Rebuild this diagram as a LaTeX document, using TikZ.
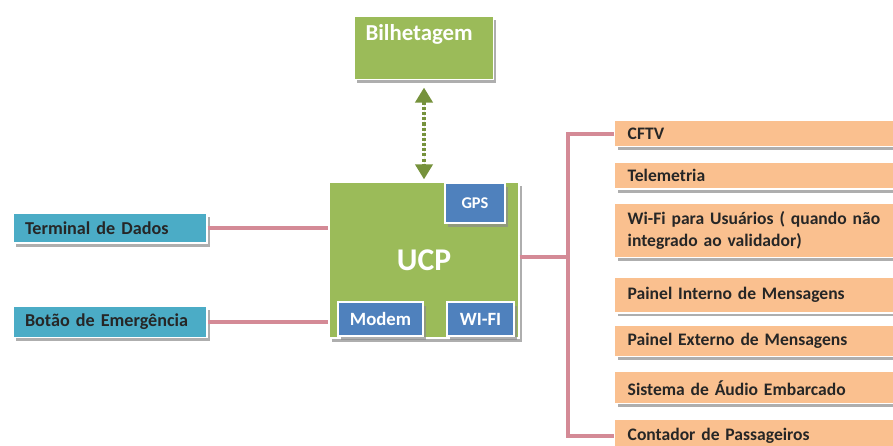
\documentclass[tikz,border=0pt]{standalone}
\usepackage{fontspec}
\setmainfont{Carlito}
\usetikzlibrary{shapes,arrows.meta,positioning,shadows}
\definecolor{ucpgreen}{HTML}{9BBB59}
\definecolor{modblue}{HTML}{4F81BD}
\definecolor{termcyan}{HTML}{4BACC6}
\definecolor{periorange}{HTML}{FAC08F}
\definecolor{wirepink}{RGB}{212,138,150}
\definecolor{arrowgreen}{HTML}{76923C}
\definecolor{darktext}{HTML}{262626}
\tikzset{basic/.style={draw=white,line width=1.2pt,rectangle,drop shadow={shadow xshift=2.5pt,shadow yshift=-3pt,fill=black!45,opacity=.7}}}
\tikzset{greenbox/.style={basic,fill=ucpgreen,text=white}}
\tikzset{module/.style={basic,fill=modblue,text=white,inner sep=0pt}}
\tikzset{input/.style={basic,fill=termcyan,text=darktext,inner xsep=0.36cm,text width=5.1cm,align=left,font=\bfseries\fontsize{15.5}{18}\selectfont}}
\tikzset{periph/.style={basic,fill=periorange,text=darktext,inner xsep=0.39cm,inner ysep=0pt,text width=7.62cm,align=left,font=\bfseries\fontsize{15}{19}\selectfont}}
\tikzset{wire/.style={draw=wirepink,line width=3.3pt}}
\tikzset{dotlink/.style={draw=arrowgreen,fill=arrowgreen,line width=2.7pt,dash pattern=on 2.6pt off 1.8pt}}

\begin{document}
\begin{tikzpicture}
    \useasboundingbox (0,0) rectangle (26.79,-13.35);

    \node[greenbox,minimum width=5.7cm,minimum height=4.68cm,font=\bfseries\fontsize{27}{30}\selectfont] (ucp) at (12.72,-7.8) {UCP};
    \node[greenbox,above=3.03cm of ucp,minimum width=4.17cm,inner xsep=0.33cm,text width=3.51cm,align=left,inner ysep=0.22cm,text height=0.5cm,text depth=0.95cm,font=\bfseries\fontsize{19.5}{22}\selectfont] (bilhet) {Bilhetagem};

    \node[module,minimum width=1.8cm,minimum height=1.2cm,font=\bfseries\fontsize{14}{16}\selectfont] (gps) at (14.25,-6.09) {GPS};
    \node[module,minimum width=2.55cm,minimum height=1.02cm,font=\bfseries\fontsize{16}{18}\selectfont] (modem) at (11.415,-9.57) {Modem};
    \node[module,minimum width=2.01cm,minimum height=1.02cm,font=\bfseries\fontsize{16}{18}\selectfont] (wifi) at (14.415,-9.57) {WI-FI};

    \node[input,minimum height=0.9cm] (term) at (3.3,-6.84) {Terminal de Dados};
    \node[input,minimum height=0.93cm,below=1.86cm of term] (botao) {Botão de Emergência};

    \node[periph,minimum height=0.78cm,anchor=north west] (cftv) at (18.42,-3.6) {CFTV};
    \node[periph,minimum height=0.81cm,below=0.42cm of cftv.south west,anchor=north west] (telem) {Telemetria};
    \node[periph,minimum height=1.62cm,below=0.39cm of telem.south west,anchor=north west] (wifiu) {Wi-Fi para Usuários ( quando não\\integrado ao validador)};
    \node[periph,minimum height=1.08cm,below=0.54cm of wifiu.south west,anchor=north west] (pint) {Painel Interno de Mensagens};
    \node[periph,minimum height=0.93cm,below=0.33cm of pint.south west,anchor=north west] (pext) {Painel Externo de Mensagens};
    \node[periph,minimum height=0.96cm,below=0.42cm of pext.south west,anchor=north west] (audio) {Sistema de Áudio Embarcado};
    \node[periph,minimum height=1.02cm,below=0.42cm of audio.south west,anchor=north west] (cont) {Contador de Passageiros};

    \coordinate (bus) at (17.04,-7.71);

        \path[wire] (term.east) -- (term.east -| ucp.west);
        \path[wire] (botao.east) -- (botao.east -| ucp.west);
        \path[wire] (ucp.east |- bus) -- (bus);
        \path[wire] (cftv.west) -| (bus) |- (cont.west);
        \path[dotlink,{Triangle[width=0.52cm,length=0.45cm]}-{Triangle[width=0.52cm,length=0.45cm]},shorten <=0.22cm,shorten >=0.06cm] (bilhet.south) -- (ucp.north);
\end{tikzpicture}
\end{document}
